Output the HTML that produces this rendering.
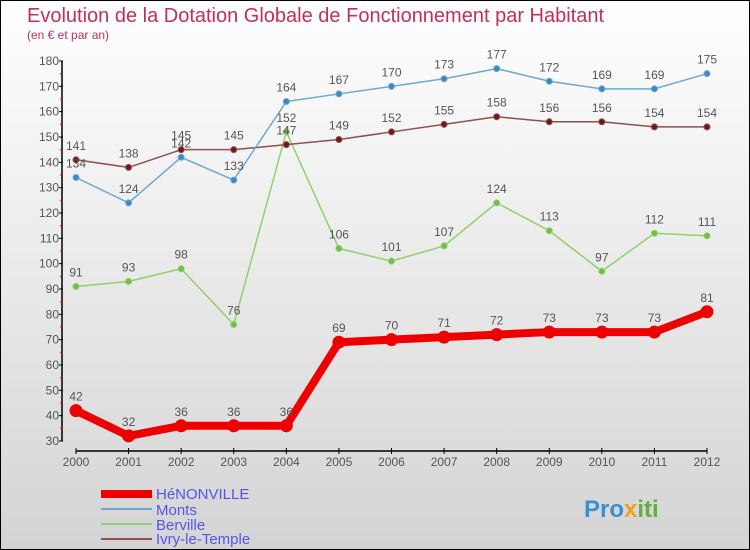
<!DOCTYPE html>
<html><head><meta charset="utf-8"><style>
body{margin:0}
#c{width:750px;height:550px;position:relative;overflow:hidden;box-sizing:border-box;border:1px solid #000;background:linear-gradient(#ffffff,#d4d4d4);font-family:"Liberation Sans",sans-serif}
text{font-family:"Liberation Sans",sans-serif}
</style></head><body>
<div id="c">
<svg id="s" width="750" height="550">
<text x="26" y="21" font-size="20" fill="#c0305a">Evolution de la Dotation Globale de Fonctionnement par Habitant</text>
<text x="26" y="38" font-size="12" fill="#c0305a">(en € et par an)</text>
<g id="axes"></g><g id="series"></g>
<g>
<rect x="100" y="489" width="51" height="8" fill="#e00"/>
<text x="155" y="498" font-size="15" fill="#5555ee">HéNONVILLE</text>
<rect x="100" y="507" width="51" height="2" fill="#6fa8cf"/>
<text x="155" y="514" font-size="15" fill="#5555ee">Monts</text>
<rect x="100" y="522" width="51" height="2" fill="#90d070"/>
<text x="155" y="529" font-size="15" fill="#5555ee">Berville</text>
<rect x="100" y="537" width="51" height="2" fill="#905050"/>
<text x="155" y="543" font-size="15" fill="#5555ee">Ivry-le-Temple</text>
</g>
<text x="583" y="516" font-size="24" font-weight="bold" fill="#3a8fd0">Pro<tspan fill="#f0a020">x</tspan><tspan fill="#60b040">iti</tspan></text>
</svg></div>
<script>
const years=[2000,2001,2002,2003,2004,2005,2006,2007,2008,2009,2010,2011,2012];
const henonville=[42,32,36,36,36,69,70,71,72,73,73,73,81];
const monts=[134,124,142,133,164,167,170,173,177,172,169,169,175];
const berville=[91,93,98,76,152,106,101,107,124,113,97,112,111];
const ivry=[141,138,145,145,147,149,152,155,158,156,156,154,154];
const yTicks=[30,40,50,60,70,80,90,100,110,120,130,140,150,160,170,180];
const NS="http://www.w3.org/2000/svg";
const X=i=>75+i*(706-75)/(years.length-1);
const Y=v=>440-(v-30)*(380/150);
function mk(t,a,p){const e=document.createElementNS(NS,t);for(const k in a)e.setAttribute(k,a[k]);p.appendChild(e);return e;}
const ax=document.getElementById('axes');
let yl=mk('line',{x1:61,y1:Y(180),x2:61,y2:Y(30),stroke:'#000','stroke-width':1.5},ax);


yTicks.forEach(v=>{
 let t=mk('line',{x1:58,y1:Y(v),x2:62,y2:Y(v),stroke:'#000'},ax);
 
 
 if(v<180){
 let m=mk('line',{x1:59,y1:Y(v+5),x2:62,y2:Y(v+5),stroke:'#e00'},ax);
 
 
 }
 let l=mk('text',{x:58,y:Y(v)+4,'font-size':12,'text-anchor':'end',fill:'#555'},ax);l.textContent=v;
 
 
});
let xl=mk('line',{x1:X(0),y1:450,x2:X(12),y2:450,stroke:'#000','stroke-width':1.5},ax);


years.forEach((y,i)=>{
 let t=mk('line',{x1:X(i),y1:447,x2:X(i),y2:453,stroke:'#000'},ax);
 
 
 let l=mk('text',{x:X(i),y:465,'font-size':12,'text-anchor':'middle',fill:'#555'},ax);l.textContent=y;
 
 
});
const sg=document.getElementById('series');
function series(d,name,col,w,r,dot){
 const g=mk('g',{},sg);
 
 
 let p=mk('polyline',{points:d.map((v,i)=>X(i)+','+Y(v)).join(' '),fill:'none',stroke:col,'stroke-width':w,'stroke-linejoin':'round'},g);
 
 
 d.forEach((v,i)=>{
  let c=mk('circle',{cx:X(i),cy:Y(v),r:r,fill:dot,stroke:col,'stroke-width':1},g);
  
  
  let t=mk('text',{x:X(i),y:Y(v)-10,'font-size':12,'text-anchor':'middle',fill:'#555'},g);t.textContent=v;
  
  
 });
}
series(berville,'berville','#90d070',1.5,3,'#70c040');
series(ivry,'ivry-le-temple','#905050',1.5,3,'#701818');
series(monts,'monts','#6fa8cf',1.5,3,'#3a88c8');
series(henonville,'henonville','#e00',8,6,'#e00');
</script>
</body></html>
